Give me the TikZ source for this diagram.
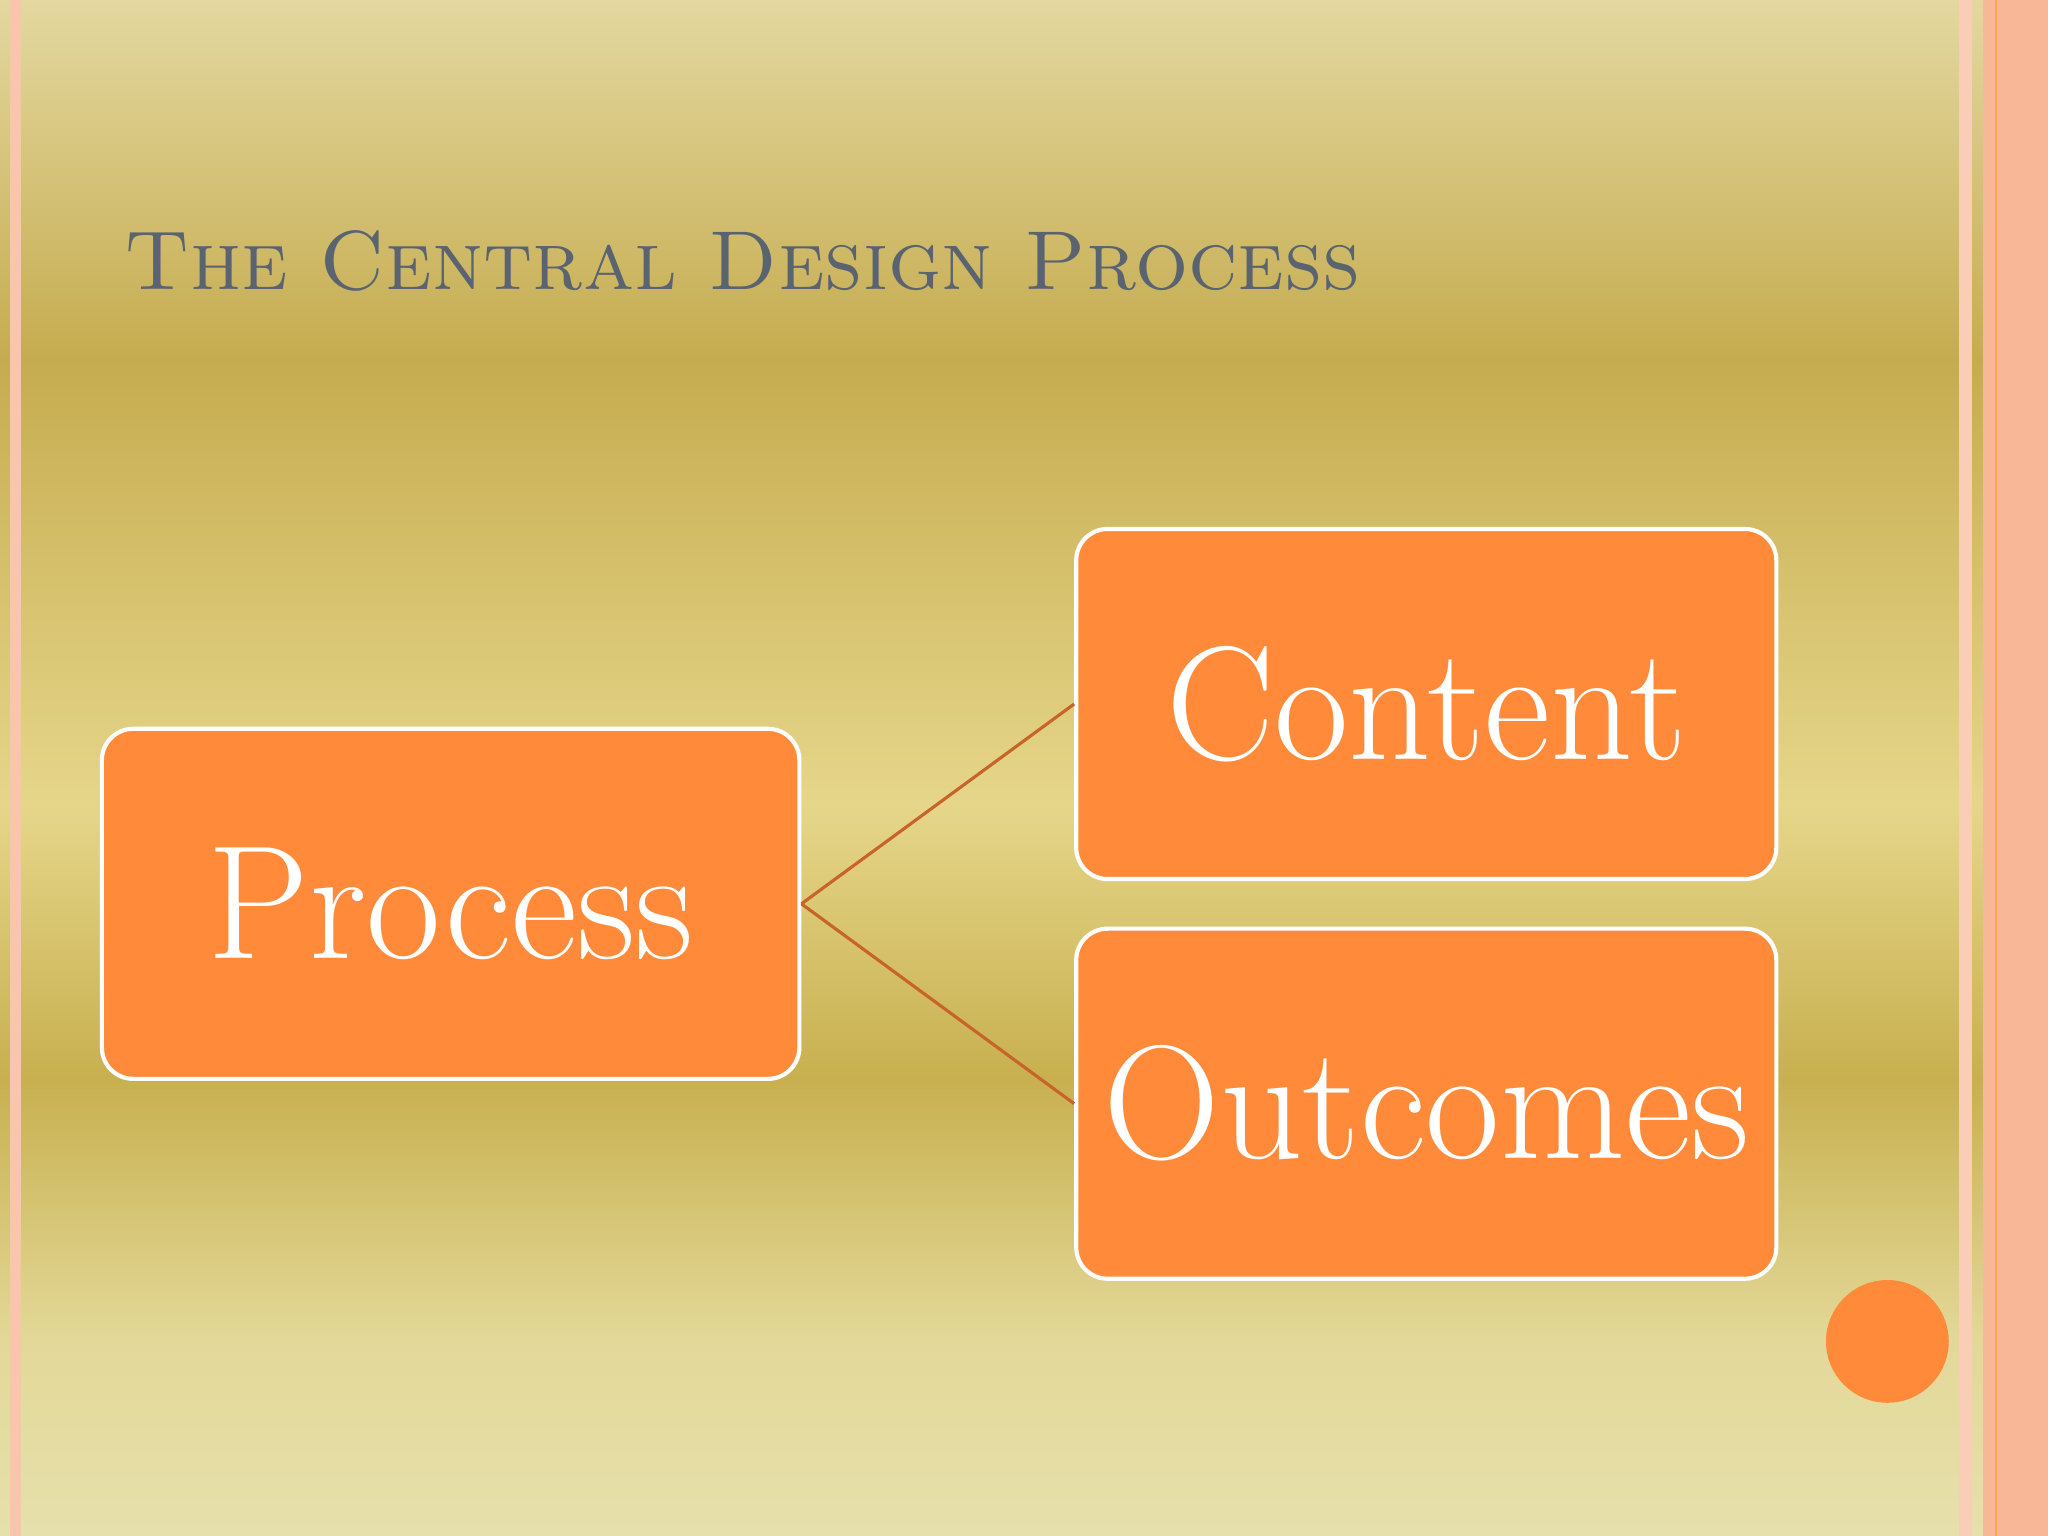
\documentclass[tikz,border=0pt]{standalone}
\usepackage{tikz}
\definecolor{c1}{HTML}{E6E0AC}
\definecolor{c2}{HTML}{E3D898}
\definecolor{c3}{HTML}{C8B050}
\definecolor{c4}{HTML}{E6D68A}
\definecolor{c5}{HTML}{C6AC50}
\definecolor{c6}{HTML}{E3D8A0}
\definecolor{boxor}{HTML}{FF8A3A}
\definecolor{linec}{HTML}{C8642A}
\definecolor{titlec}{HTML}{5A6470}
\definecolor{pinkst}{HTML}{F8B898}
\pgfdeclareverticalshading{bgsh}{100bp}{color(0bp)=(c1);color(25bp)=(c1);color(31.4bp)=(c2);color(39.9bp)=(c3);color(48.8bp)=(c4);color(63.3bp)=(c5);color(75bp)=(c6);color(100bp)=(c6)}
\tikzset{
 box/.style={draw=white,line width=1.6pt,fill=boxor,rounded corners=12pt,text=white,font=\fontsize{62}{64}\selectfont},
 conn/.style={draw=linec,line width=1.2pt}
}
\begin{document}
\begin{tikzpicture}[x=0.5pt,y=-0.5pt]
\useasboundingbox (0,0) rectangle (1568,1176);
\shade[shading=bgsh] (0,0) rectangle (1568,1176);
% borders
\fill[pinkst] (1518,0) rectangle (1568,1176);
\fill[pinkst!70] (1500,0) rectangle (1510,1176);
\draw[orange!70,line width=0.6pt] (1528,0) -- (1528,1176);
\fill[pinkst!80] (8,0) rectangle (16,1176);
\node[anchor=base west,text=titlec,font=\fontsize{32}{34}\selectfont\scshape,inner sep=0] (title) at (95,222) {The Central Design Process};
\node[box,minimum width=267pt,minimum height=134pt] (p) at (345,692) {Process};
\node[box,minimum width=268pt,minimum height=134pt] (c) at (1092,539) {Content};
\node[box,minimum width=268pt,minimum height=134pt] (o) at (1092,845) {Outcomes};
\draw[conn] (p.east) -- (c.west);
\draw[conn] (p.east) -- (o.west);
\fill[boxor] (1445,1027) circle (23.5pt);
\end{tikzpicture}
\end{document}
